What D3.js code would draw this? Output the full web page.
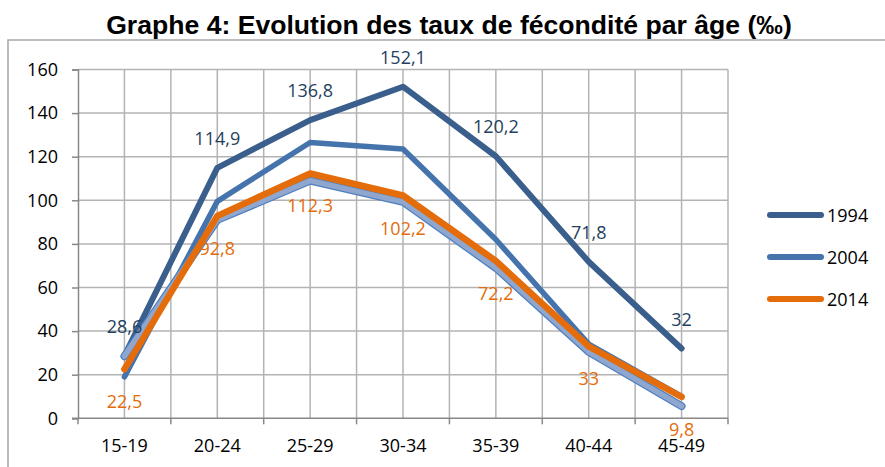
<!doctype html>
<html>
<head>
<meta charset="utf-8">
<title>Graphe 4</title>
<script src="https://cdn.jsdelivr.net/npm/d3@7/dist/d3.min.js"></script>
<style>
  body { margin: 0; background: #fff; }
  text { font-family: "Open Sans", sans-serif; }
</style>
</head>
<body>
<svg id="chart" width="885" height="467"></svg>
<script>
// age groups on the x axis
var ageGroups = ["15-19", "20-24", "25-29", "30-34", "35-39", "40-44", "45-49"];
var yTicks = [0, 20, 40, 60, 80, 100, 120, 140, 160];

// fertility rates per age (per thousand)
var rates1994 = [28.6, 114.9, 136.8, 152.1, 120.2, 71.8, 32];
var rates2004 = [19, 99.5, 126.5, 123.5, 82, 34, 10];
var rates2014 = [22.5, 92.8, 112.3, 102.2, 72.2, 33, 9.8];
// extra series drawn in the chart but left out of the legend
var ratesExtra = [28.5, 91, 109, 99.3, 69, 30.5, 5.6];

var legendYears = ["1994", "2004", "2014"];

var svg = d3.select("#chart");

// outer chart border (runs off the right and bottom edges)
svg.append("path")
  .attr("d", "M8,467 V40 H885")
  .attr("fill", "none")
  .attr("stroke", "#a6a6a6")
  .attr("stroke-width", 1.5);

svg.append("text")
  .attr("x", 449).attr("y", 34)
  .attr("text-anchor", "middle")
  .style("font-family", "'Liberation Sans', Arial, sans-serif")
  .style("font-weight", "bold")
  .style("font-size", "26.6px")
  .text("Graphe 4: Evolution des taux de fécondité par âge (‰)");

var x = d3.scaleBand().domain(ageGroups).range([78, 728]);
var y = d3.scaleLinear().domain([0, 160]).range([418.3, 69.5]);
var bw = x.bandwidth();
var cx = function(i) { return x(ageGroups[i]) + bw / 2; };

// grid: horizontal at every tick, vertical at category edges and centres
var grid = svg.append("g");
grid.selectAll("line.h").data(yTicks.slice(1)).join("line")
  .attr("x1", 78).attr("x2", 728)
  .attr("y1", function(d) { return y(d); }).attr("y2", function(d) { return y(d); })
  .attr("stroke", "#b3b3b3").attr("stroke-width", 1.5);
var vPos = [];
ageGroups.forEach(function(g) { vPos.push(x(g) + bw / 2, x(g) + bw); });
grid.selectAll("line.v").data(vPos).join("line")
  .attr("x1", function(d) { return d; }).attr("x2", function(d) { return d; })
  .attr("y1", y(160)).attr("y2", y(0))
  .attr("stroke", "#b3b3b3").attr("stroke-width", 1.5);

// y axis
var yAxis = svg.append("g")
  .attr("transform", "translate(78,0)")
  .call(d3.axisLeft(y).tickValues(yTicks).tickSize(6).tickPadding(14).tickFormat(d3.format("d")));
yAxis.select(".domain").attr("stroke", "#888").attr("stroke-width", 1.5);
yAxis.selectAll(".tick line").attr("stroke", "#888").attr("stroke-width", 1.5);
yAxis.selectAll(".tick text")
  .style("font-family", "'Open Sans', sans-serif")
  .style("font-size", "18px").attr("fill", "#000");

// x axis: ticks on category edges, labels centred
var xAxis = svg.append("g");
xAxis.append("line")
  .attr("x1", 72).attr("x2", 728).attr("y1", y(0)).attr("y2", y(0))
  .attr("stroke", "#888").attr("stroke-width", 1.5);
var edges = [x(ageGroups[0])].concat(ageGroups.map(function(g) { return x(g) + bw; }));
xAxis.selectAll("line.t").data(edges).join("line")
  .attr("x1", function(d) { return d; }).attr("x2", function(d) { return d; })
  .attr("y1", y(0)).attr("y2", y(0) + 6)
  .attr("stroke", "#888").attr("stroke-width", 1.5);
xAxis.selectAll("text").data(ageGroups).join("text")
  .attr("x", function(d) { return x(d) + bw / 2; })
  .attr("y", 452)
  .attr("text-anchor", "middle")
  .style("font-size", "18px")
  .text(function(d) { return d; });

var line = d3.line()
  .x(function(d, i) { return cx(i); })
  .y(function(d) { return y(d); });

function drawLine(values, color, width) {
  svg.append("path")
    .datum(values)
    .attr("d", line)
    .attr("fill", "none")
    .attr("stroke", color)
    .attr("stroke-width", width)
    .attr("stroke-linejoin", "round")
    .attr("stroke-linecap", "round");
}

drawLine(rates1994, "#3a5f8c", 6);
drawLine(rates2004, "#4573ac", 5.5);
drawLine(ratesExtra, "#4f7fbd", 8);
drawLine(ratesExtra, "#8fa7cf", 5.5);
drawLine(rates2014, "#e46c0a", 6.5);

var fmt = function(v) { return String(v).replace(".", ","); };

svg.append("g").selectAll("text").data(rates1994).join("text")
  .attr("x", function(d, i) { return cx(i); })
  .attr("y", function(d) { return y(d) - 23; })
  .attr("text-anchor", "middle")
  .attr("fill", "#243f60")
  .style("font-size", "18px")
  .text(fmt);

svg.append("g").selectAll("text").data(rates2014).join("text")
  .attr("x", function(d, i) { return cx(i); })
  .attr("y", function(d) { return y(d) + 39; })
  .attr("text-anchor", "middle")
  .attr("fill", "#e46c0a")
  .style("font-size", "18px")
  .text(fmt);

// legend
var legendColors = ["#3a5f8c", "#4573ac", "#e46c0a"];
var leg = svg.append("g").selectAll("g").data(legendYears).join("g")
  .attr("transform", function(d, i) { return "translate(767," + (215 + i * 42) + ")"; });
leg.append("line")
  .attr("x1", 3).attr("x2", 54)
  .attr("stroke", function(d, i) { return legendColors[i]; })
  .attr("stroke-width", 6)
  .attr("stroke-linecap", "round");
leg.append("text")
  .attr("x", 60).attr("y", 6.5)
  .style("font-size", "18px")
  .text(function(d) { return d; });
</script>
</body>
</html>
